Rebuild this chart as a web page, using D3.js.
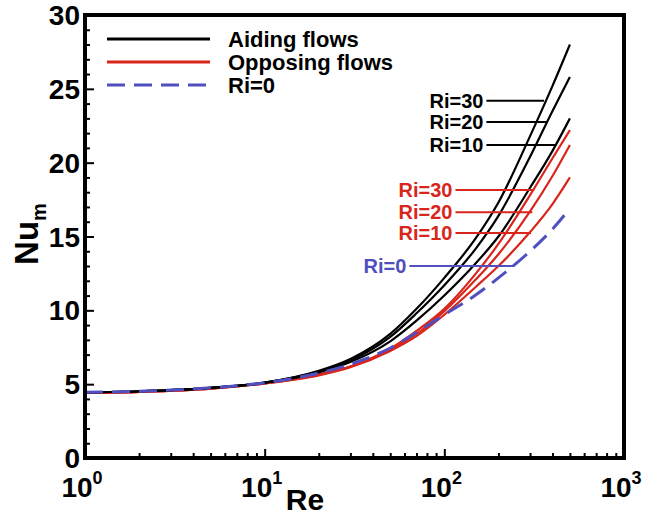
<!DOCTYPE html>
<html>
<head>
<meta charset="utf-8">
<script src="https://cdn.jsdelivr.net/npm/d3@7"></script>
<style>
  body { margin: 0; background: #fff; }
  text { font-family: "Liberation Sans", Arial, sans-serif; font-weight: bold; }
</style>
</head>
<body>
<div id="container"></div>
<script>
(function() {

// Reynolds numbers where the curves were read
let reValues = [1, 2, 5, 10, 20, 30, 50, 70, 100, 150, 200, 300, 400, 500];

// Aiding flows (black)
let aidingRi30 = [4.45, 4.52, 4.75, 5.1, 5.9, 6.7, 8.4, 10.1, 12.2, 14.9, 17.3, 21.8, 25.2, 28.0];
let aidingRi20 = [4.45, 4.52, 4.75, 5.1, 5.85, 6.6, 8.2, 9.8, 11.7, 14.2, 16.4, 20.4, 23.5, 25.8];
let aidingRi10 = [4.45, 4.52, 4.75, 5.1, 5.8, 6.5, 7.9, 9.3, 11.0, 13.2, 15.0, 18.3, 20.8, 23.0];

// Opposing flows (red)
let opposingRi30 = [4.4, 4.48, 4.7, 5.05, 5.65, 6.2, 7.4, 8.6, 10.1, 12.5, 14.5, 17.8, 20.3, 22.2];
let opposingRi20 = [4.4, 4.48, 4.7, 5.05, 5.65, 6.2, 7.35, 8.4, 9.95, 12.1, 13.8, 16.7, 19.1, 21.2];
let opposingRi10 = [4.4, 4.48, 4.7, 5.05, 5.6, 6.15, 7.25, 8.25, 9.7, 11.6, 13.0, 15.3, 17.2, 19.0];

// Forced convection (blue dashed)
let forcedRi0 = [4.45, 4.52, 4.75, 5.1, 5.75, 6.35, 7.45, 8.5, 9.7, 11.05, 12.2, 14.0, 15.5, 16.9];

let yTicks = [0, 5, 10, 15, 20, 25, 30];
let xDecades = [1, 10, 100, 1000];
let legendLabels = ["Aiding flows", "Opposing flows", "Ri=0"];

// annotation: label, Nu level of leader line, Re at label end, Re at curve
let annotations = [
  { text: "Ri=30", nu: 24.2, reFrom: 165, reTo: 359, color: "#000" },
  { text: "Ri=20", nu: 22.75, reFrom: 165, reTo: 372, color: "#000" },
  { text: "Ri=10", nu: 21.2, reFrom: 165, reTo: 419, color: "#000" },
  { text: "Ri=30", nu: 18.15, reFrom: 111, reTo: 316, color: "#d9261c" },
  { text: "Ri=20", nu: 16.65, reFrom: 111, reTo: 309, color: "#d9261c" },
  { text: "Ri=10", nu: 15.23, reFrom: 111, reTo: 304, color: "#d9261c" },
  { text: "Ri=0", nu: 13.0, reFrom: 61.5, reTo: 245, color: "#4f4fbf" }
];

let width = 646, height = 518;
let left = 85, right = 624, top = 15, bottom = 458;

let svg = d3.select("#container")
  .append("svg")
    .attr("width", width)
    .attr("height", height);

let x = d3.scaleLog().domain([1, 1000]).range([left, right]);
let y = d3.scaleLinear().domain([0, 30]).range([bottom, top]);

// minor ticks
let xMinor = [];
for (let d = 1; d < 1000; d *= 10) {
  for (let k = 2; k <= 9; k++) xMinor.push(d * k);
}
let yMinor = d3.range(0, 31, 1).filter((v) => v % 5 !== 0);

svg.append("g")
  .attr("transform", "translate(0," + bottom + ")")
  .call(d3.axisBottom(x).tickValues(xMinor).tickSize(-5).tickFormat(""));
svg.append("g")
  .attr("transform", "translate(0," + bottom + ")")
  .call(d3.axisBottom(x).tickValues(xDecades).tickSize(-9).tickFormat(""));
svg.append("g")
  .attr("transform", "translate(" + left + ",0)")
  .call(d3.axisLeft(y).tickValues(yMinor).tickSize(-5).tickFormat(""));
svg.append("g")
  .attr("transform", "translate(" + left + ",0)")
  .call(d3.axisLeft(y).tickValues(yTicks).tickSize(-9).tickFormat(""));

svg.selectAll(".domain").remove();
svg.selectAll(".tick line").attr("stroke", "#000").attr("stroke-width", 2);

// y tick labels
svg.append("g")
  .selectAll("text")
  .data(yTicks)
  .enter()
  .append("text")
    .attr("x", left - 5)
    .attr("y", (d) => y(d) + 10)
    .attr("text-anchor", "end")
    .attr("font-size", 28)
    .text((d) => d);

// x tick labels 10^n
let xl = svg.append("g")
  .selectAll("text")
  .data(xDecades)
  .enter()
  .append("text")
    .attr("x", (d) => x(d) - 3)
    .attr("y", 497)
    .attr("text-anchor", "middle")
    .attr("font-size", 28);
xl.append("tspan").text("10");
xl.append("tspan")
  .attr("font-size", 18)
  .attr("dy", -13)
  .text((d) => Math.round(Math.log10(d)));

// axis titles
svg.append("text")
  .attr("x", 305)
  .attr("y", 510)
  .attr("text-anchor", "middle")
  .attr("font-size", 30)
  .text("Re");
let yt = svg.append("text")
  .attr("transform", "translate(38,234) rotate(-90)")
  .attr("text-anchor", "middle")
  .attr("font-size", 33);
yt.append("tspan").text("Nu");
yt.append("tspan").attr("font-size", 20).attr("dy", 8).text("m");

// curves
let line = d3.line()
  .x((d) => x(d[0]))
  .y((d) => y(d[1]))
  .curve(d3.curveMonotoneX);

let series = [
  { values: opposingRi10, color: "#d9261c", dash: null },
  { values: opposingRi20, color: "#d9261c", dash: null },
  { values: opposingRi30, color: "#d9261c", dash: null },
  { values: aidingRi10, color: "#000", dash: null },
  { values: aidingRi20, color: "#000", dash: null },
  { values: aidingRi30, color: "#000", dash: null },
  { values: forcedRi0, color: "#4f4fbf", dash: "18,9" }
];

svg.append("g")
  .selectAll("path")
  .data(series)
  .enter()
  .append("path")
    .attr("d", (s) => line(reValues.map((r, i) => [r, s.values[i]])))
    .attr("fill", "none")
    .attr("stroke", (s) => s.color)
    .attr("stroke-width", (s) => s.dash ? 3 : 2.2)
    .attr("stroke-dasharray", (s) => s.dash);

// annotations
let ann = svg.append("g")
  .selectAll("g")
  .data(annotations)
  .enter()
  .append("g");
ann.append("line")
  .attr("x1", (d) => x(d.reFrom) + 3)
  .attr("x2", (d) => x(d.reTo))
  .attr("y1", (d) => y(d.nu))
  .attr("y2", (d) => y(d.nu))
  .attr("stroke", (d) => d.color)
  .attr("stroke-width", 2);
ann.append("text")
  .attr("x", (d) => x(d.reFrom))
  .attr("y", (d) => y(d.nu) + 7)
  .attr("text-anchor", "end")
  .attr("font-size", 20)
  .attr("fill", (d) => d.color)
  .text((d) => d.text);

// legend
let legendColors = ["#000", "#d9261c", "#4f4fbf"];
let lg = svg.append("g")
  .selectAll("g")
  .data(legendLabels)
  .enter()
  .append("g")
    .attr("transform", (d, i) => "translate(107," + (39 + i * 23) + ")");
lg.append("line")
  .attr("x1", 0)
  .attr("x2", 103)
  .attr("stroke", (d, i) => legendColors[i])
  .attr("stroke-width", 3)
  .attr("stroke-dasharray", (d, i) => i === 2 ? "18,9" : null);
lg.append("text")
  .attr("x", 121)
  .attr("y", 8)
  .attr("font-size", 22)
  .text((d) => d);

// frame
svg.append("rect")
  .attr("x", left)
  .attr("y", top)
  .attr("width", right - left)
  .attr("height", bottom - top)
  .attr("fill", "none")
  .attr("stroke", "#000")
  .attr("stroke-width", 4);

})();
</script>
</body>
</html>
